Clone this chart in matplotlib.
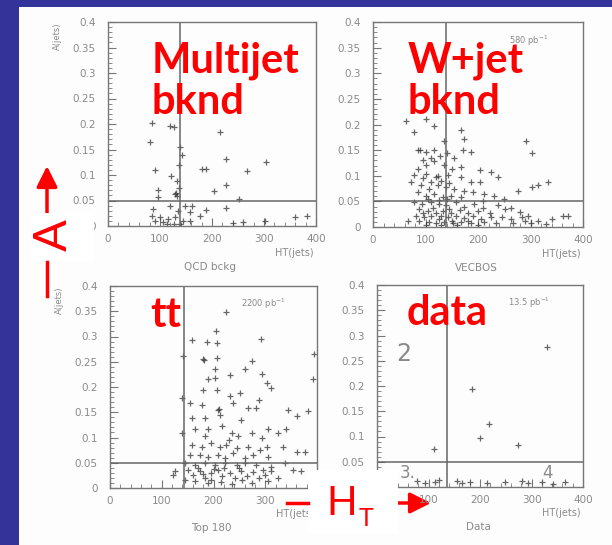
import matplotlib
matplotlib.use("Agg")
import matplotlib.pyplot as plt
from matplotlib.patches import Rectangle
from matplotlib.lines import Line2D
from matplotlib.ticker import MultipleLocator

# ---- data (HT in GeV, A = aplanarity) ----
qcd_points = [(84, 0.202), (119, 0.197), (126, 0.195), (215, 0.184), (81, 0.165),
              (138, 0.155), (143, 0.140), (227, 0.132), (304, 0.125), (180, 0.112),
              (188, 0.112), (90, 0.109), (267, 0.108), (122, 0.099), (132, 0.089),
              (227, 0.081), (204, 0.068), (97, 0.070), (129, 0.063), (131, 0.065),
              (133, 0.058), (97, 0.056), (251, 0.053), (119, 0.040), (148, 0.040),
              (161, 0.040), (227, 0.035), (188, 0.031), (87, 0.033), (135, 0.030),
              (157, 0.027), (84, 0.020), (100, 0.017), (116, 0.014), (129, 0.017),
              (145, 0.010), (157, 0.010), (177, 0.020), (360, 0.017), (383, 0.020),
              (113, 0.004), (126, 0.003), (138, 0.004), (241, 0.005), (260, 0.007),
              (302, 0.009), (90, 0.010), (106, 0.007), (137, 0.120), (136, 0.075)]

wjet_points = [(63, 0.207), (101, 0.210), (117, 0.197), (168, 0.190), (79, 0.185),
               (174, 0.171), (136, 0.167), (292, 0.167), (85, 0.151), (90, 0.150),
               (101, 0.147), (117, 0.151), (171, 0.151), (187, 0.146), (302, 0.144),
               (128, 0.139), (155, 0.134), (117, 0.128), (101, 0.121), (136, 0.121),
               (168, 0.118), (85, 0.114), (151, 0.114), (203, 0.111), (225, 0.108),
               (238, 0.098), (79, 0.101), (120, 0.098), (124, 0.100), (101, 0.104),
               (142, 0.101), (168, 0.098), (187, 0.088), (203, 0.088), (334, 0.088),
               (315, 0.081), (302, 0.078), (276, 0.071), (72, 0.088), (91, 0.081),
               (107, 0.075), (123, 0.081), (139, 0.078), (155, 0.075), (174, 0.071),
               (190, 0.068), (212, 0.065), (85, 0.068), (101, 0.061), (117, 0.065),
               (133, 0.058), (149, 0.061), (168, 0.058), (78, 0.048), (94, 0.045),
               (110, 0.048), (126, 0.045), (139, 0.042), (158, 0.048), (174, 0.040),
               (193, 0.045), (209, 0.038), (238, 0.042), (251, 0.035), (263, 0.038),
               (88, 0.035), (104, 0.032), (120, 0.028), (133, 0.032), (149, 0.028),
               (165, 0.033), (181, 0.028), (200, 0.032), (222, 0.028), (82, 0.022),
               (98, 0.019), (110, 0.022), (126, 0.015), (142, 0.019), (158, 0.022),
               (174, 0.017), (190, 0.022), (206, 0.015), (225, 0.019), (245, 0.019),
               (263, 0.015), (283, 0.019), (295, 0.022), (66, 0.012), (88, 0.011),
               (107, 0.009), (120, 0.007), (136, 0.009), (152, 0.007), (168, 0.009),
               (187, 0.007), (212, 0.009), (235, 0.007), (266, 0.007), (289, 0.012),
               (315, 0.011), (340, 0.015), (362, 0.022), (372, 0.022), (95, 0.095),
               (110, 0.088), (130, 0.090), (145, 0.085), (105, 0.055), (125, 0.052),
               (140, 0.055), (115, 0.038), (145, 0.035), (95, 0.028), (130, 0.022),
               (150, 0.012), (100, 0.003), (130, 0.004), (160, 0.003), (200, 0.004),
               (180, 0.012), (110, 0.135), (140, 0.145), (95, 0.130), (230, 0.060),
               (250, 0.055), (210, 0.050), (280, 0.030), (300, 0.008), (330, 0.005)]

top_points = [(225, 0.348), (204, 0.311), (159, 0.293), (187, 0.289), (206, 0.288),
              (292, 0.296), (142, 0.262), (180, 0.255), (182, 0.253), (206, 0.258),
              (395, 0.265), (274, 0.252), (203, 0.235), (261, 0.235), (232, 0.223),
              (189, 0.215), (203, 0.218), (293, 0.225), (312, 0.199), (393, 0.216),
              (180, 0.195), (206, 0.195), (251, 0.189), (303, 0.208), (232, 0.182),
              (140, 0.179), (287, 0.175), (155, 0.169), (177, 0.165), (209, 0.155),
              (211, 0.157), (238, 0.169), (267, 0.159), (283, 0.159), (344, 0.155),
              (383, 0.152), (158, 0.139), (184, 0.139), (212, 0.145), (254, 0.135),
              (361, 0.143), (140, 0.108), (164, 0.116), (184, 0.102), (190, 0.116),
              (216, 0.122), (229, 0.096), (235, 0.109), (248, 0.102), (274, 0.109),
              (293, 0.099), (306, 0.116), (325, 0.109), (341, 0.116), (158, 0.086),
              (177, 0.082), (196, 0.089), (212, 0.082), (225, 0.086), (245, 0.079),
              (267, 0.082), (290, 0.076), (303, 0.082), (335, 0.082), (155, 0.066),
              (174, 0.066), (190, 0.062), (209, 0.066), (222, 0.059), (238, 0.069),
              (261, 0.059), (277, 0.066), (306, 0.062), (361, 0.072), (377, 0.072),
              (145, 0.049), (164, 0.046), (184, 0.049), (203, 0.046), (222, 0.049),
              (245, 0.046), (261, 0.050), (283, 0.046), (312, 0.042), (338, 0.049),
              (126, 0.033), (122, 0.026), (151, 0.036), (161, 0.026), (174, 0.033),
              (184, 0.019), (196, 0.029), (209, 0.036), (216, 0.023), (232, 0.029),
              (241, 0.019), (254, 0.033), (264, 0.023), (277, 0.031), (287, 0.019),
              (300, 0.026), (306, 0.013), (312, 0.033), (164, 0.013), (190, 0.009),
              (145, 0.016), (325, 0.019), (354, 0.036), (370, 0.033), (274, 0.009),
              (235, 0.008), (170, 0.040), (200, 0.038), (220, 0.040), (250, 0.040),
              (195, 0.015), (215, 0.012), (255, 0.015), (295, 0.035), (180, 0.028)]

data_points = [(330, 0.277), (184, 0.195), (218, 0.124), (200, 0.097), (274, 0.084),
               (111, 0.076), (77, 0.012), (93, 0.008), (113, 0.010), (120, 0.014),
               (155, 0.012), (165, 0.008), (181, 0.010), (214, 0.008), (249, 0.010),
               (281, 0.012), (293, 0.008), (320, 0.010), (342, 0.006), (365, 0.010)]

panel_points = [qcd_points, wjet_points, top_points, data_points]
panel_titles = ["QCD bckg", "VECBOS", "Top 180", "Data"]
panel_lumi = ["", "580 pb$^{-1}$", "2200 pb$^{-1}$", "13.5 pb$^{-1}$"]
cut_ht = [138, 139, 143, 136]
cut_a = 0.05
y_ticks = [0, 0.05, 0.1, 0.15, 0.2, 0.25, 0.3, 0.35, 0.4]
y_tick_labels = ["0", "0.05", "0.1", "0.15", "0.2", "0.25", "0.3", "0.35", "0.4"]
x_ticks = [0, 100, 200, 300, 400]
x_tick_labels = ["0", "100", "200", "300", "400"]

W, H = 612, 545
BLUE = "#333399"
RED = "#ff0000"
GREY = "#7a7a7a"


def fx(px):
    return px / W


def fy(py):
    return 1 - py / H


fig = plt.figure(figsize=(W / 100, H / 100), dpi=100, facecolor=BLUE)
fig.add_artist(Rectangle((fx(19), 0), fx(W - 19), 1 - 7 / H,
                         transform=fig.transFigure, facecolor="#fdfdfd",
                         edgecolor="none", zorder=-5))

# axes boxes in pixels: left, top, right, bottom
boxes = [(108, 22, 316, 226), (373, 22, 583, 227),
         (110, 286, 317, 488), (377, 285, 583, 487)]

for i, (l, t, r, b) in enumerate(boxes):
    ax = fig.add_axes([fx(l), fy(b), fx(r - l), (b - t) / H])
    ax.set_facecolor("none")
    pts = panel_points[i]
    ht = [p[0] for p in pts]
    a = [p[1] for p in pts]
    ax.plot(ht, a, linestyle="none", marker="+", markersize=4.5,
            markeredgewidth=0.9, color="#333333", alpha=0.75)
    ax.axvline(cut_ht[i], color="#666666", lw=1.1)
    ax.axhline(cut_a, color="#666666", lw=1.1)
    ax.set_xlim(0, 400)
    ax.set_ylim(0, 0.4)
    ax.set_xticks(x_ticks)
    ax.set_xticklabels(x_tick_labels)
    ax.set_yticks(y_ticks)
    ax.set_yticklabels(y_tick_labels)
    ax.xaxis.set_minor_locator(MultipleLocator(20))
    ax.yaxis.set_minor_locator(MultipleLocator(0.01))
    ax.tick_params(which="both", direction="in", colors="#777777",
                   labelsize=7.5, labelcolor="#8a8a8a", top=False, right=False)
    ax.tick_params(which="major", length=6)
    ax.tick_params(which="minor", length=3)
    ax.tick_params(axis="y", pad=9)
    ax.tick_params(axis="x", pad=6)
    for s in ax.spines.values():
        s.set_color("#777777")
        s.set_linewidth(1.0)
    ax.text(0.99, -0.13, "HT(jets)", transform=ax.transAxes, ha="right",
            va="center", fontsize=7, color="#8a8a8a")
    ax.text(0.49, -0.2, panel_titles[i], transform=ax.transAxes, ha="center",
            va="center", fontsize=7.5, color="#8a8a8a")
    if panel_lumi[i]:
        ax.text(0.74, 0.91, panel_lumi[i], transform=ax.transAxes, ha="center",
                va="center", fontsize=6, color="#8a8a8a")
    if i in (0, 2):
        ax.text(-0.245, 0.93, "A(jets)", transform=ax.transAxes, rotation=90,
                ha="center", va="center", fontsize=6, color="#8a8a8a")

# region labels in the data panel
ax4 = fig.axes[3]
ax4.text(51, 0.263, "2", ha="center", va="center", fontsize=17, color="#8a8a8a")
ax4.text(60, 0.027, "3.", ha="center", va="center", fontsize=12, color="#8a8a8a")
ax4.text(332, 0.027, "4", ha="center", va="center", fontsize=12, color="#8a8a8a")

# red slide annotations
red_font = dict(family="Lato", weight="bold", color=RED, fontsize=30, zorder=6)
fig.text(fx(152), fy(72), "Multijet", va="baseline", **red_font)
fig.text(fx(152), fy(114), "bknd", va="baseline", **red_font)
fig.text(fx(408), fy(72), "W+jet", va="baseline", **red_font)
fig.text(fx(408), fy(114), "bknd", va="baseline", **red_font)
fig.text(fx(150), fy(327), "tt", va="baseline", **red_font)
fig.text(fx(407), fy(325), "data", va="baseline", **red_font)

# A axis arrow
fig.add_artist(Rectangle((fx(31), fy(262)), fx(63), 49 / H, transform=fig.transFigure,
                         facecolor="white", edgecolor="none", zorder=5))
fig.text(fx(54), fy(235), "A", rotation=90, ha="center", va="center",
         family="Lato", fontsize=34, color=RED, zorder=6)
fig.add_artist(Line2D([fx(47), fx(47)], [fy(262), fy(296)], color=RED, lw=2.5,
                      transform=fig.transFigure, zorder=6))
fig.axes[0].annotate("", xy=(47, H - 166), xytext=(47, H - 214),
                     xycoords="figure pixels", textcoords="figure pixels",
                     arrowprops=dict(arrowstyle="-|>,head_length=0.9,head_width=0.45",
                                     color=RED, lw=2.5, mutation_scale=14,
                                     shrinkA=0, shrinkB=0), zorder=6,
                     annotation_clip=False)

# H_T axis arrow
fig.add_artist(Rectangle((fx(308), fy(533)), fx(90), 63 / H, transform=fig.transFigure,
                         facecolor="white", edgecolor="none", zorder=5))
fig.text(fx(342), fy(515), "H", ha="center", va="baseline",
         family="Lato", fontsize=29, color=RED, zorder=6)
fig.text(fx(366), fy(526), "T", ha="center", va="baseline",
         family="Lato", fontsize=18, color=RED, zorder=6)
fig.add_artist(Line2D([fx(287), fx(308)], [fy(503), fy(503)], color=RED, lw=2.5,
                      transform=fig.transFigure, zorder=6))
fig.axes[0].annotate("", xy=(431, H - 503), xytext=(398, H - 503),
                     xycoords="figure pixels", textcoords="figure pixels",
                     arrowprops=dict(arrowstyle="-|>,head_length=0.9,head_width=0.45",
                                     color=RED, lw=2.5, mutation_scale=14,
                                     shrinkA=0, shrinkB=0), zorder=6,
                     annotation_clip=False)

fig.savefig("out.png", dpi=100, facecolor=BLUE)
